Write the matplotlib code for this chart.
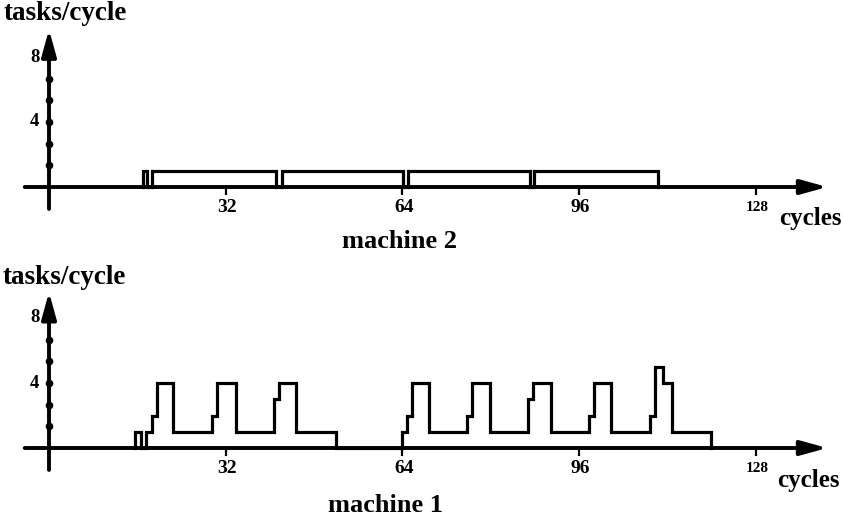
import numpy as np
import matplotlib
matplotlib.use("Agg")
import matplotlib.pyplot as plt

# Task throughput per cycle, given as (edge, level after edge) pairs
m2_edges = [17.0, 17.7, 18.6, 41.2, 42.3, 64.2, 65.0, 87.1, 87.9, 110.4]
m2_levels = [1, 0, 1, 0, 1, 0, 1, 0, 1, 0]

m1_edges = [15.6, 16.7, 17.5, 18.6, 19.6, 22.5, 29.6, 30.5, 33.9, 40.8, 41.7,
            44.7, 52.0, 63.9, 64.8, 65.8, 68.9, 75.8, 76.7, 79.9, 86.8, 87.6,
            90.9, 97.9, 98.8, 101.9, 108.9, 109.8, 111.2, 112.9, 119.9]
m1_levels = [1, 0, 1, 2, 4, 1, 2, 4, 1, 3, 4,
             1, 0, 1, 2, 4, 1, 2, 4, 1, 3, 4,
             1, 2, 4, 1, 2, 5, 4, 1, 0]

x_ticks = [32, 64, 96, 128]
y_marks = [4 / 3 * k for k in range(1, 7)]
y_labels = {4: "4", 8: "8"}

W, H = 843, 521
fig = plt.figure(figsize=(W / 100, H / 100), dpi=100)
fig.patch.set_facecolor("white")

serif = {"family": "Liberation Serif", "weight": "bold", "color": "black"}

px_per_cycle = 5.52
px_per_task = 16.25
x0_px = 49
xlim = (-x0_px / px_per_cycle, (W - x0_px) / px_per_cycle)


def make_panel(top_px, bot_px, base_px):
    ax = fig.add_axes([0, 1 - bot_px / H, 1, (bot_px - top_px) / H])
    ax.set_xlim(*xlim)
    ax.set_ylim((base_px - bot_px) / px_per_task, (base_px - top_px) / px_per_task)
    ax.axis("off")
    return ax


def draw_panel(ax, edges, levels, y_tip):
    # axes with arrow heads
    arrow = dict(arrowstyle="-|>,head_length=0.8,head_width=0.22", lw=2.8,
                 color="black", mutation_scale=20, shrinkA=0, shrinkB=0)
    ax.annotate("", xy=(141.0, 0), xytext=(-4.4, 0), arrowprops=arrow)
    ax.annotate("", xy=(0, y_tip), xytext=(0, -1.35), arrowprops=arrow)

    # y tick marks and labels
    ax.plot(np.zeros(len(y_marks)), y_marks, ls="none", marker="o",
            ms=4.5, color="black")
    for v, s in y_labels.items():
        ax.text(-2.6, v, s, ha="center", va="center", fontsize=13.5, **serif)

    # x ticks and labels
    ax.plot(x_ticks, np.zeros(len(x_ticks)), ls="none", marker=3,
            ms=6, mew=1.6, color="black")
    for t in x_ticks:
        ax.text(t + 0.3, -1.25, str(t), ha="center", va="center",
                fontsize=11 if t == 128 else 14, **serif)

    # throughput trace
    xs = np.r_[edges[0], edges]
    ys = np.r_[0, levels]
    ax.step(xs, ys, where="post", color="black", lw=2.3,
            solid_joinstyle="miter")


ax_top = make_panel(0, 260, 187)
draw_panel(ax_top, m2_edges, m2_levels, 9.7)

ax_bot = make_panel(260, 521, 448)
draw_panel(ax_bot, m1_edges, m1_levels, 9.6)

fs = 19
fig.text(4 / W, 1 - 14 / H, "tasks/cycle", ha="left", va="center", fontsize=fs + 0.5, **serif)
fig.text(3 / W, 1 - 277 / H, "tasks/cycle", ha="left", va="center", fontsize=fs + 0.5, **serif)
fig.text(779 / W, 1 - 218 / H, "cycles", ha="left", va="center", fontsize=18, **serif)
fig.text(777 / W, 1 - 481 / H, "cycles", ha="left", va="center", fontsize=18, **serif)
fig.text(400 / W, 1 - 242 / H, "machine 2", ha="center", va="center", fontsize=fs, **serif)
fig.text(386 / W, 1 - 505 / H, "machine 1", ha="center", va="center", fontsize=fs, **serif)

fig.savefig("out.png", dpi=100, facecolor="white")
